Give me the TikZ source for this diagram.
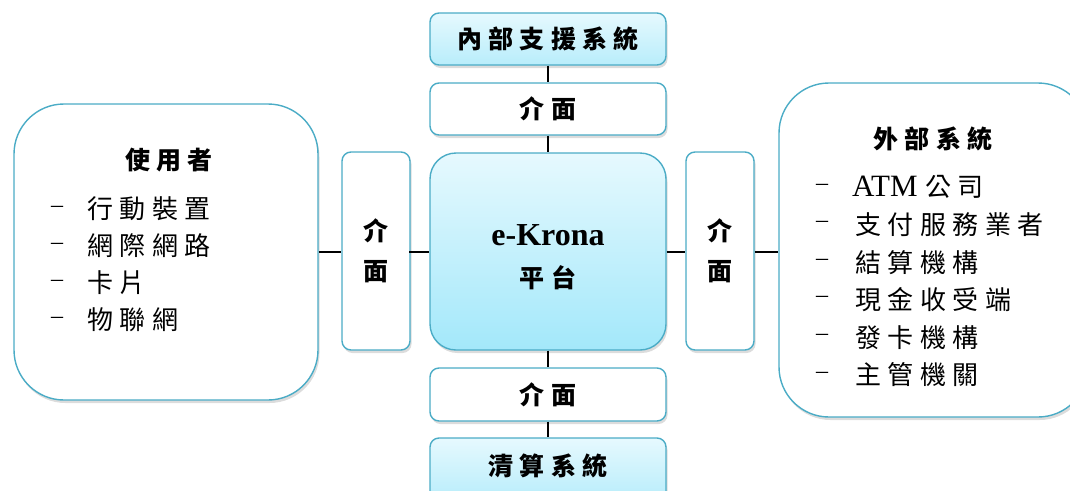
\documentclass[tikz,border=0pt]{standalone}
\usepackage{fontspec}
\setmainfont{Liberation Serif}
\newfontfamily\cjk[LetterSpace=25]{Noto Sans CJK TC}
\usetikzlibrary{shadows}
\definecolor{bordc}{HTML}{4BACC6}
\definecolor{topc}{HTML}{E6F9FE}
\definecolor{botc}{HTML}{A3E8FA}
\definecolor{sysbot}{HTML}{B8EDFB}
\newcommand{\ttl}{\cjk\bfseries\fontsize{25}{40}\selectfont}
\newcommand{\itm}{\cjk\fontsize{26}{30}\selectfont}
\begin{document}
\begin{tikzpicture}[x=1pt,y=-1pt,
  base/.style={draw=bordc,line width=1.4pt,inner sep=0pt,align=center,font=\ttl,
    drop shadow={shadow xshift=1.5pt,shadow yshift=-3pt,opacity=0.28}},
  ifbox/.style={base,fill=white,rounded corners=9pt},
  sysbox/.style={base,top color=topc,bottom color=sysbot,rounded corners=9pt},
  corebox/.style={base,top color=topc,bottom color=botc,rounded corners=26pt},
  bigbox/.style={base,fill=white,rounded corners=50pt},
  txt/.style={inner sep=0pt,anchor=west},
  conn/.style={draw=black,line width=1.4pt}]
\useasboundingbox (0,0) rectangle (1070,490);
\clip (0,0) rectangle (1070,490);
% boxes
\node[sysbox,minimum width=236,minimum height=52] (insys) at (548,39) {內部支援系統};
\node[ifbox,minimum width=236,minimum height=52] (iftop) at (548,109) {介面};
\node[corebox,minimum width=236,minimum height=197] (core) at (548,251.5) {};
\node[ifbox,minimum width=236,minimum height=53] (ifbot) at (548,394.5) {介面};
\node[sysbox,minimum width=236,minimum height=62] (clsys) at (548,469) {};
\node[ifbox,minimum width=68,minimum height=198] (lif) at (376,251) {介\\面};
\node[ifbox,minimum width=68,minimum height=198] (rif) at (720,251) {介\\面};
\node[bigbox,minimum width=304,minimum height=296] (user) at (166,252) {};
\node[bigbox,minimum width=309,minimum height=334] (ext) at (933.5,250) {};
% texts
\node[inner sep=0pt] (cltxt) at (548,466) {\ttl 清算系統};
\node[inner sep=0pt] (ek) at (548,235) {\bfseries\fontsize{32}{36}\selectfont e-Krona};
\node[inner sep=0pt] (pt) at (548,278) {\ttl 平台};
\node[inner sep=0pt] (utitle) at (169,160) {\ttl 使用者};
\foreach \t [count=\i] in {行動裝置,網際網路,卡片,物聯網}{
  \node[txt] (ud\i) at (51,209+37*\i-37) {\fontsize{24}{28}\selectfont –};
  \node[txt] (ut\i) at (87,209+37*\i-37) {\itm \t};
}
\node[inner sep=0pt] (etitle) at (933,139) {\ttl 外部系統};
\node[txt] (ed1) at (816,187) {\fontsize{24}{28}\selectfont –};
\node[txt] (et1) at (852,187) {\fontsize{31}{34}\selectfont ATM {\itm 公司}};
\foreach \t [count=\i from 2] in {支付服務業者,結算機構,現金收受端,發卡機構,主管機關}{
  \node[txt] (ed\i) at (816,187+37.6*\i-37.6) {\fontsize{24}{28}\selectfont –};
  \node[txt] (et\i) at (855,187+37.6*\i-37.6) {\itm \t};
}
% connectors
\draw[conn] (insys.south) -- (iftop.north);
\draw[conn] (iftop.south) -- (core.north);
\draw[conn] (core.south) -- (ifbot.north);
\draw[conn] (ifbot.south) -- (clsys.north);
\draw[conn] (user.east) -- (user.east -| lif.west);
\draw[conn] (lif.west |- user.east) ++(68,0) coordinate (lifr) (lifr) -- (lifr -| core.west);
\draw[conn] (core.east |- user.east) -- (user.east -| rif.west);
\draw[conn] (rif.east |- user.east) -- (user.east -| ext.west);
\end{tikzpicture}
\end{document}
